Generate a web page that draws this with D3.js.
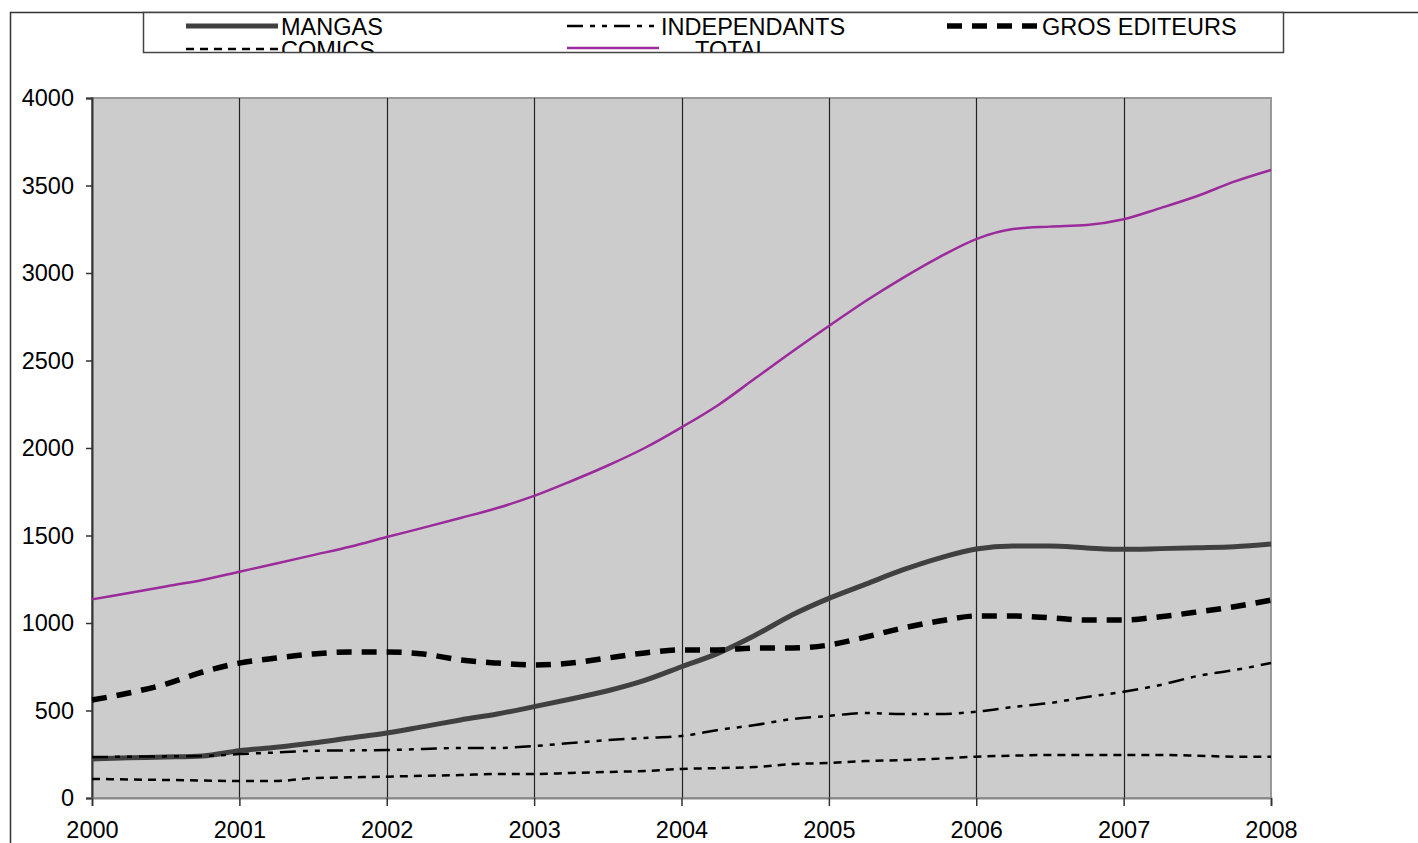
<!DOCTYPE html>
<html>
<head>
<meta charset="utf-8">
<script src="https://cdn.jsdelivr.net/npm/d3@7"></script>
<style>
  body { margin: 0; background: #fff; }
  text { font-family: "Liberation Sans", Arial, sans-serif; }
</style>
</head>
<body>
<svg width="1418" height="843"></svg>
<script>
// quarterly points, 2000 -> 2008
const quarters = d3.range(0, 33).map(i => 2000 + i / 4);

const mangas = [223, 230, 234, 240, 270, 290, 314, 343, 371, 408, 446, 480,
  522, 566, 613, 672, 750, 828, 930, 1046, 1141, 1222, 1303, 1371,
  1423, 1440, 1440, 1429, 1421, 1425, 1430, 1436, 1451];
const independants = [234, 236, 238, 240, 251, 260, 270, 272, 274, 280, 286, 286,
  297, 314, 331, 343, 354, 389, 417, 451, 469, 486, 480, 480,
  493, 520, 543, 577, 607, 646, 697, 731, 771];
const grosEditeurs = [560, 600, 651, 720, 771, 800, 823, 834, 834, 823, 789, 771,
  760, 771, 800, 829, 846, 846, 857, 857, 874, 920, 971, 1011,
  1040, 1040, 1030, 1017, 1017, 1036, 1063, 1093, 1131];
const comics = [109, 106, 103, 100, 97, 97, 114, 118, 122, 127, 131, 137,
  137, 143, 149, 154, 166, 171, 177, 194, 200, 211, 217, 225,
  236, 242, 246, 246, 246, 246, 242, 236, 236];
const total = [1135, 1172, 1209, 1246, 1293, 1340, 1388, 1436, 1491, 1545, 1600, 1657,
  1726, 1810, 1900, 2000, 2118, 2246, 2398, 2550, 2697, 2840, 2971, 3091,
  3194, 3251, 3265, 3274, 3307, 3371, 3440, 3522, 3589];

const yTicks = [0, 500, 1000, 1500, 2000, 2500, 3000, 3500, 4000];
const xTickLabels = [2000, 2001, 2002, 2003, 2004, 2005, 2006, 2007, 2008];

const series = [
  {name: "MANGAS", values: mangas, color: "#404040", width: 5, dash: null},
  {name: "INDEPENDANTS", values: independants, color: "#000", width: 2.5, dash: "16,7,5,7,5,7"},
  {name: "GROS EDITEURS", values: grosEditeurs, color: "#000", width: 5.5, dash: "15,10"},
  {name: "COMICS", values: comics, color: "#000", width: 2.5, dash: "8,6"},
  {name: "TOTAL", values: total, color: "#9b2a9b", width: 2.5, dash: null}
];

const svg = d3.select("svg");
const margin = {top: 98, left: 92},
    width = 1179,
    height = 700;

const x = d3.scaleLinear().domain([2000, 2008]).range([margin.left, margin.left + width]);
const y = d3.scaleLinear().domain([0, 4000]).range([margin.top + height, margin.top]);

// outer frame (top and left edges visible)
svg.append("path")
  .attr("d", "M10.5,843 V12.5 H1418")
  .attr("fill", "none")
  .attr("stroke", "#333")
  .attr("stroke-width", 1.5);

// plot background
svg.append("rect")
  .attr("x", margin.left).attr("y", margin.top)
  .attr("width", width).attr("height", height)
  .attr("fill", "#cccccc")
  .attr("stroke", "#999")
  .attr("stroke-width", 2);

// vertical grid
svg.append("g")
  .selectAll("line")
  .data(xTickLabels.slice(1, -1))
  .join("line")
  .attr("x1", d => Math.round(x(d)) + 0.5)
  .attr("x2", d => Math.round(x(d)) + 0.5)
  .attr("y1", margin.top)
  .attr("y2", margin.top + height)
  .attr("stroke", "#222")
  .attr("stroke-width", 1.2);

// y axis
const yAxis = svg.append("g")
  .attr("transform", `translate(${margin.left},0)`)
  .call(d3.axisLeft(y).tickValues(yTicks).tickSize(6).tickPadding(12).tickFormat(d3.format("d")));
yAxis.select(".domain").attr("stroke", "#333").attr("stroke-width", 2);
yAxis.selectAll(".tick line").attr("stroke", "#333").attr("stroke-width", 1.5);
yAxis.selectAll("text").style("font-size", "23.5px").attr("fill", "#000")
  .attr("font-family", "Liberation Sans, Arial, sans-serif");

// x axis
const xAxis = svg.append("g")
  .attr("transform", `translate(0,${margin.top + height})`)
  .call(d3.axisBottom(x).tickValues(xTickLabels).tickSize(8).tickPadding(15).tickFormat(d3.format("d")));
xAxis.select(".domain").attr("stroke", "#888").attr("stroke-width", 2);
xAxis.selectAll(".tick line").attr("stroke", "#333").attr("stroke-width", 1.5);
xAxis.selectAll("text").style("font-size", "23.5px").attr("fill", "#000")
  .attr("font-family", "Liberation Sans, Arial, sans-serif");

// lines
const line = d3.line()
  .x((d, i) => x(quarters[i]))
  .y(d => y(d))
  .curve(d3.curveMonotoneX);

svg.append("g")
  .selectAll("path")
  .data(series)
  .join("path")
  .attr("d", d => line(d.values))
  .attr("fill", "none")
  .attr("stroke", d => d.color)
  .attr("stroke-width", d => d.width)
  .attr("stroke-dasharray", d => d.dash)
  .attr("stroke-linejoin", "round");

// legend
const legendItems = [
  {s: series[0], lx: 186, ly: 26, tx: 281, ty: 35},
  {s: series[1], lx: 567, ly: 26, tx: 661, ty: 35},
  {s: series[2], lx: 947, ly: 26, tx: 1042, ty: 35},
  {s: series[3], lx: 186, ly: 49, tx: 281, ty: 58},
  {s: series[4], lx: 567, ly: 48, tx: 695, ty: 58}
];

svg.append("clipPath").attr("id", "legclip")
  .append("rect").attr("x", 143).attr("y", 12).attr("width", 1141).attr("height", 41);

const legend = svg.append("g").attr("clip-path", "url(#legclip)");
legend.append("rect")
  .attr("x", 143.5).attr("y", 12.5).attr("width", 1140).attr("height", 40)
  .attr("fill", "#fff");

legend.selectAll("line")
  .data(legendItems)
  .join("line")
  .attr("x1", d => d.lx).attr("x2", d => d.lx + 92)
  .attr("y1", d => d.ly).attr("y2", d => d.ly)
  .attr("stroke", d => d.s.color)
  .attr("stroke-width", d => d.s.width)
  .attr("stroke-dasharray", d => d.s.dash);

legend.selectAll("text")
  .data(legendItems)
  .join("text")
  .attr("x", d => d.tx).attr("y", d => d.ty)
  .text(d => d.s.name)
  .style("font-size", "23.5px");

svg.append("rect")
  .attr("x", 143.5).attr("y", 12.5).attr("width", 1140).attr("height", 40)
  .attr("fill", "none")
  .attr("stroke", "#444")
  .attr("stroke-width", 1.5);
</script>
</body>
</html>
